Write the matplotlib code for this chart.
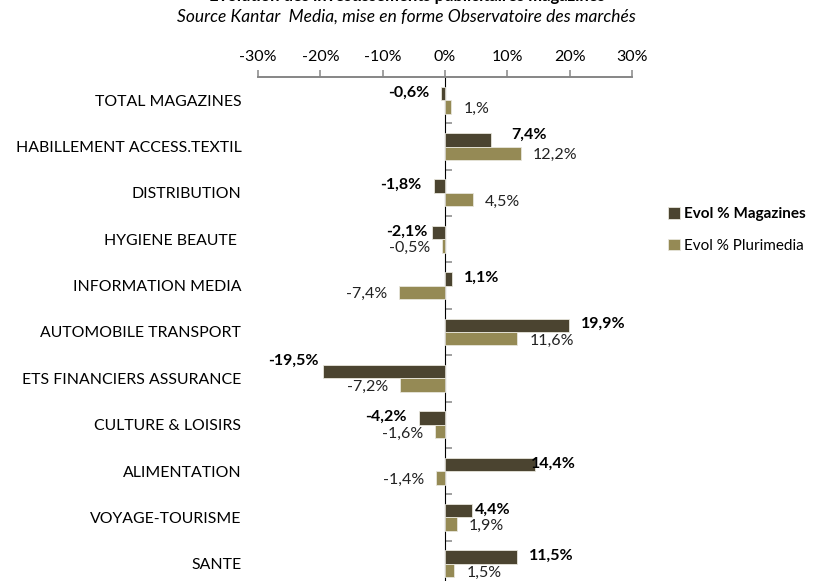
import numpy as np
import matplotlib
matplotlib.use("Agg")
import matplotlib.pyplot as plt

plt.rcParams['font.family'] = ['Lato', 'DejaVu Sans']

# data
secteurs = ["TOTAL MAGAZINES", "HABILLEMENT ACCESS.TEXTIL", "DISTRIBUTION",
            "HYGIENE BEAUTE ", "INFORMATION MEDIA", "AUTOMOBILE TRANSPORT",
            "ETS FINANCIERS ASSURANCE", "CULTURE & LOISIRS", "ALIMENTATION",
            "VOYAGE-TOURISME", "SANTE"]
evol_magazines = [-0.6, 7.4, -1.8, -2.1, 1.1, 19.9, -19.5, -4.2, 14.4, 4.4, 11.5]
evol_plurimedia = [1.0, 12.2, 4.5, -0.5, -7.4, 11.6, -7.2, -1.6, -1.4, 1.9, 1.5]
xticks = [-30, -20, -10, 0, 10, 20, 30]

dark = '#4b4430'
khaki = '#958a55'
grey = '#868686'


def fmt(v):
    # excel style "0,#%"
    s = "%.1f" % v
    if s.endswith("0"):
        s = s[:-1]
    return s.replace(".", ",") + "%"


fig = plt.figure(figsize=(8.14, 5.81), dpi=100)
ax = fig.add_axes([258/814, -0.0103, 374/814, 0.8778])

y = np.arange(len(secteurs))
h = 0.29
ax.barh(y - h/2, evol_magazines, height=h, color=dark, edgecolor='#e8e6dc', lw=0.6, label='Evol % Magazines')
ax.barh(y + h/2, evol_plurimedia, height=h, color=khaki, edgecolor='#e8e6dc', lw=0.6, label='Evol % Plurimedia')

ax.set_xlim(-30, 30)
ax.set_ylim(len(secteurs) - 0.5, -0.5)

# top axis
ax.xaxis.tick_top()
ax.set_xticks(xticks)
ax.set_xticklabels(["%d%%" % t for t in xticks])
ax.tick_params(axis='x', direction='out', length=5, width=1.1, color=grey, pad=4, labelsize=11.5)
for s in ['left', 'right', 'bottom']:
    ax.spines[s].set_visible(False)
ax.spines['top'].set_color(grey)
ax.spines['top'].set_linewidth(1.4)

# category labels at the left of the plot area
ax.set_yticks(y)
ax.set_yticklabels(secteurs)
ax.tick_params(axis='y', length=0, pad=12, labelsize=11.4)

# vertical zero line with category boundary ticks
sec = ax.secondary_yaxis(0.5)
sec.set_yticks(np.arange(0.5, len(secteurs), 1.0))
sec.set_yticklabels([])
sec.tick_params(direction='out', length=5, width=1.1, color=grey)
sec.spines['left'].set_color(grey)
sec.spines['left'].set_linewidth(1.4)

# value labels (pixel nudges for the magazines labels)
mag_nudge = {1: (8, -4), 3: (-8, 0), 6: (-7, -10), 8: (-16, 0), 9: (-10, 0)}
for i, v in enumerate(evol_magazines):
    dx, dy = mag_nudge.get(i, (0, 0))
    gap = 12 + dx
    ax.annotate(fmt(v), (v, i - h/2), xytext=(gap if v >= 0 else -gap, 1 - dy),
                textcoords='offset pixels', ha='left' if v >= 0 else 'right',
                va='center', fontsize=11.5, fontweight='bold', color='black')
for i, v in enumerate(evol_plurimedia):
    ax.annotate(fmt(v), (v, i + h/2), xytext=(12 if v >= 0 else -12, -2),
                textcoords='offset pixels', ha='left' if v >= 0 else 'right',
                va='center', fontsize=11.5, color='#222222')

leg = fig.legend(loc='center left', bbox_to_anchor=(668/814, 1 - 230/581), frameon=False,
                 handlelength=0.8, handleheight=0.8, handletextpad=0.25,
                 labelspacing=1.15, fontsize=11, borderpad=0, borderaxespad=0)
leg.get_texts()[0].set_fontweight('bold')

# title is cut off by the top edge, as in the source image
fig.text(0.5, 1 - 1.5/581, "Evolution des investissements publicitaires magazines",
         ha='center', va='baseline', fontsize=12, fontweight='bold')
fig.text(406/814, 1 - 17/581, "Source Kantar  Media, mise en forme Observatoire des marchés",
         ha='center', va='center', fontsize=12.5, style='italic')

fig.savefig("out.png", dpi=100)
